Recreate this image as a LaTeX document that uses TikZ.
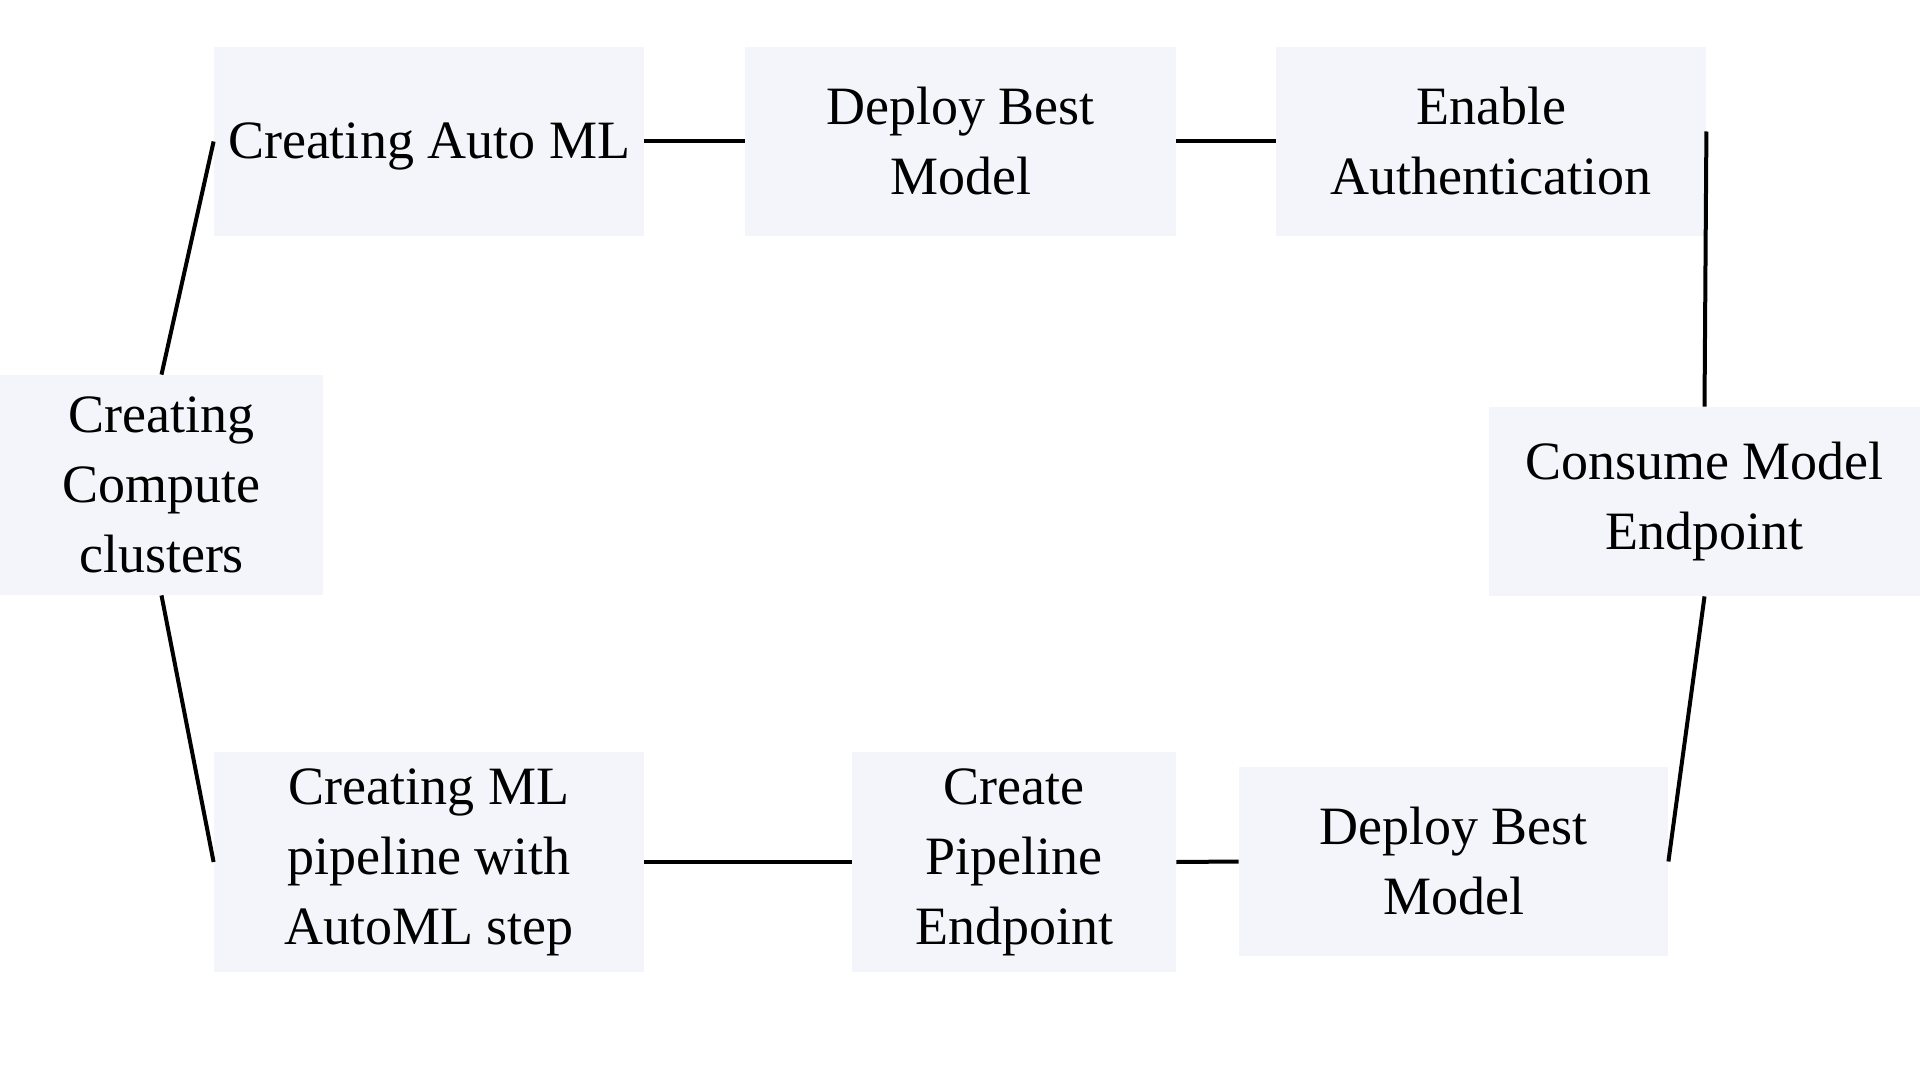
\documentclass[tikz,border=0pt]{standalone}
\usepackage{fontspec}
\setmainfont{Liberation Serif}
\definecolor{boxfill}{HTML}{F4F5FA}
\begin{document}
\begin{tikzpicture}[x=0.5pt,y=-0.5pt,
  stepbox/.style={fill=boxfill,draw=none,inner sep=0pt,align=center,
    font=\fontsize{27}{35}\selectfont,text=black},
  link/.style={draw=black,line width=2pt}]
\useasboundingbox (0,0) rectangle (1920,1080);
\node[stepbox,minimum width=215pt,minimum height=94.5pt] (am) at (429,141.5) {\raisebox{-2.5pt}[\height][\depth]{Creating Auto ML}};
\node[stepbox,minimum width=215.5pt,minimum height=94.5pt] (db1) at (960.5,141.5) {Deploy Best\\Model};
\node[stepbox,minimum width=215pt,minimum height=94.5pt] (en) at (1491,141.5) {Enable\\Authentication};
\node[stepbox,minimum width=161.5pt,minimum height=110pt] (cc) at (161.5,485) {Creating\\Compute\\clusters};
\node[stepbox,minimum width=215.5pt,minimum height=94.5pt] (cm) at (1704.5,501.5) {Consume Model\\Endpoint};
\node[stepbox,minimum width=215pt,minimum height=110pt] (mp) at (429,862) {Creating ML\\pipeline with\\AutoML step};
\node[stepbox,minimum width=162pt,minimum height=110pt] (cp) at (1014,862) {Create\\Pipeline\\Endpoint};
\node[stepbox,minimum width=214.5pt,minimum height=94.5pt] (db2) at (1453.5,861.5) {Deploy Best\\Model};
\coordinate (enr) at ([yshift=5pt]en.east);
\draw[link] (cc.north) -- (am.west);
\draw[link] (am.east) -- (db1.west);
\draw[link] (db1.east) -- (en.west);
\draw[link] (enr) -- (cm.north);
\draw[link] (cm.south) -- (db2.east);
\draw[link] (db2.west) -- (cp.east);
\draw[link] (cp.west) -- (mp.east);
\draw[link] (mp.west) -- (cc.south);
\end{tikzpicture}
\end{document}
